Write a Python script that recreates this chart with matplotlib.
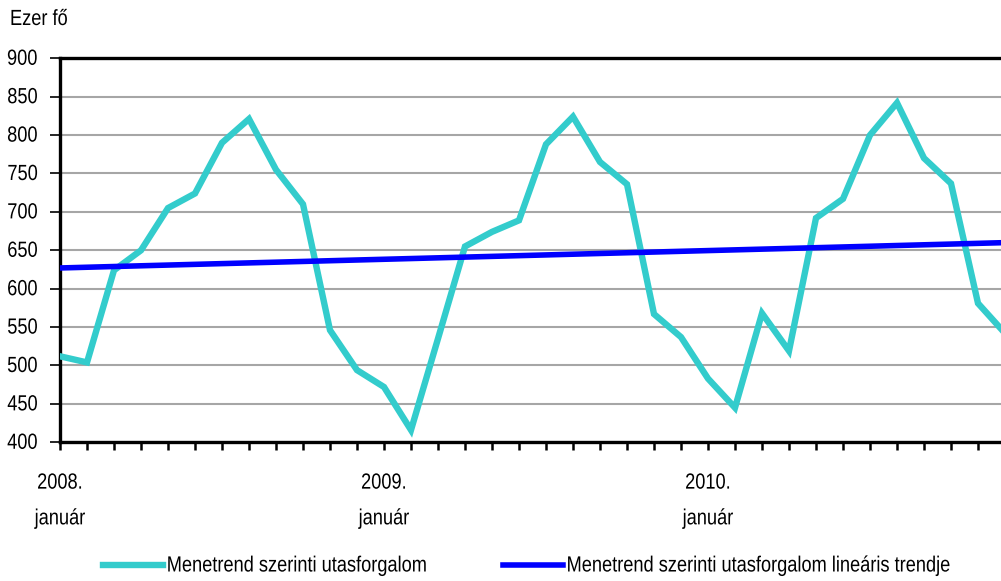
import matplotlib
matplotlib.use("Agg")
import matplotlib.pyplot as plt
from matplotlib.patheffects import AbstractPathEffect
from matplotlib.transforms import Affine2D

# Monthly scheduled passenger traffic, January 2008 - December 2010 (thousand persons)
months = list(range(36))
passengers = [512, 504, 624, 650, 705, 724, 790, 821, 755, 710, 546, 494,
              472, 416, 535, 655, 674, 689, 788, 824, 765, 736, 567, 537,
              483, 445, 568, 519, 692, 717, 800, 842, 770, 737, 581, 542]
# linear trend endpoints (first and last month)
trend_months = [0, 35]
trend_values = [627, 660]

year_labels = {0: "2008.\njanuár", 12: "2009.\njanuár", 24: "2010.\njanuár"}
yticks = [400, 450, 500, 550, 600, 650, 700, 750, 800, 850, 900]

plt.rcParams["font.family"] = ["Liberation Sans", "DejaVu Sans"]

# Condensed lettering: text is laid out at a reduced size and its glyphs are
# stretched vertically about the baseline, so widths stay as laid out.
NARROW = 0.83


class Tall(AbstractPathEffect):
    def __init__(self, sy=1 / NARROW):
        super().__init__()
        self.sy = sy

    def draw_path(self, renderer, gc, tpath, affine, rgbFace=None):
        renderer.draw_path(gc, tpath, Affine2D().scale(1, self.sy) + affine, rgbFace)


FS = 15.8 * NARROW
W, H = 1001, 581
fig = plt.figure(figsize=(W / 100, H / 100), dpi=100)
left, right, top, bottom = 60, 1005, 58.3, 442.3
ax = fig.add_axes([left / W, 1 - bottom / H, (right - left) / W, (bottom - top) / H])

ax.plot(months, passengers, color="#33CCCC", lw=4.6, solid_joinstyle="miter",
        label="Menetrend szerinti utasforgalom", zorder=3)
ax.plot(trend_months, trend_values, color="#0000FF", lw=4.0,
        label="Menetrend szerinti utasforgalom lineáris trendje", zorder=4)

ax.set_xlim(0, 35)
ax.set_ylim(400, 900)
ax.set_yticks(yticks)
ax.set_xticks(months)
ax.set_xticklabels([year_labels.get(m, "") for m in months], fontsize=FS,
                   linespacing=2.44, va="top")
ax.tick_params(axis="y", labelsize=FS, length=7, width=1.2, pad=9, direction="out")
ax.tick_params(axis="x", length=6, width=1.8, pad=18, direction="out")
for lbl in ax.get_yticklabels() + ax.get_xticklabels():
    lbl.set_path_effects([Tall()])

ax.grid(axis="y", color="#a6a6a6", lw=1.5, zorder=1)
ax.set_axisbelow(True)
for s in ["left", "top", "bottom", "right"]:
    ax.spines[s].set_linewidth(2.4)
    ax.spines[s].set_color("black")

fig.text(10 / W, 1 - 25 / H, "Ezer fő", fontsize=FS, va="baseline", ha="left",
         path_effects=[Tall()])

leg = fig.legend(loc="center left", bbox_to_anchor=(103 / W, 1 - 567 / H), ncol=2,
                 frameon=False, fontsize=FS, handlelength=3.3, handletextpad=0.2,
                 columnspacing=4.15, borderaxespad=0, borderpad=0)
for t in leg.get_texts():
    t.set_path_effects([Tall()])

fig.savefig("out.png", dpi=100)
